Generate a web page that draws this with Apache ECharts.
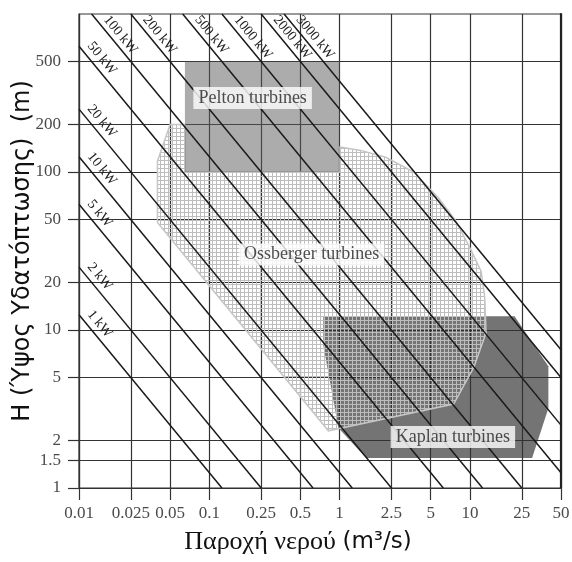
<!DOCTYPE html>
<html>
<head>
<meta charset="utf-8">
<script src="https://cdn.jsdelivr.net/npm/echarts@6/dist/echarts.min.js"></script>
<style>
html, body { margin: 0; padding: 0; background: #fff; }
#chart { width: 572px; height: 562px; }
</style>
</head>
<body>
<div id="chart"></div>
<script>
// tick values of the two log axes
const flowTicks = [0.01, 0.025, 0.05, 0.1, 0.25, 0.5, 1, 2.5, 5, 10, 25, 50];
const headTicks = [1, 1.5, 2, 5, 10, 20, 50, 100, 200, 500];

// constant power lines: label, start point and end point [Q, H] at the plot edges
const powerLabels = ['1 kW', '2 kW', '5 kW', '10 kW', '20 kW', '50 kW',
  '100 kW', '200 kW', '500 kW', '1000 kW', '2000 kW', '3000 kW'];
const powerStart = [[0.01, 12.5], [0.01, 25], [0.01, 62.5], [0.01, 125], [0.01, 250], [0.01, 625],
  [0.0125, 1000], [0.025, 1000], [0.0625, 1000], [0.125, 1000], [0.25, 1000], [0.375, 1000]];
const powerEnd = [[0.125, 1], [0.25, 1], [0.625, 1], [1.25, 1], [2.5, 1], [6.25, 1],
  [12.5, 1], [25, 1], [50, 1.25], [50, 2.5], [50, 5], [50, 7.5]];

// turbine application ranges, outline points [Q, H]
const peltonArea = [[0.065, 500], [1, 500], [1, 100], [0.065, 100]];
const ossbergerArea = [[0.05, 200], [0.065, 200], [0.065, 100], [1, 100], [1, 144], [1.45, 137],
  [2.26, 124], [3.7, 100], [5.7, 69], [7.8, 49], [10.2, 32], [12.2, 23.5], [13, 16], [13.3, 9.6],
  [10.7, 5.8], [7.5, 3.4], [0.82, 2.3], [0.04, 48], [0.04, 117]];
const kaplanArea = [[0.75, 12.2], [22, 12.2], [40, 5.9], [40, 3.2], [30, 1.55], [1.6, 1.55],
  [0.98, 2.4], [0.75, 8]];

const regionNames = ['Pelton turbines', 'Ossberger turbines', 'Kaplan turbines'];
const regionLabelAt = [[0.215, 294], [0.61, 30], [7.4, 2.1]];

const serif = 'Liberation Serif';
const gridColor = '#333';

// cross hatch tile for the Ossberger area
const tile = document.createElement('canvas');
tile.width = 4;
tile.height = 4;
const tctx = tile.getContext('2d');
tctx.fillStyle = '#bdbdbd';
tctx.fillRect(0, 0, 4, 1);
tctx.fillRect(0, 0, 1, 4);

const polygonSeries = (name, pts, style, z) => ({
  type: 'custom',
  name: name,
  z: z,
  silent: true,
  data: pts,
  renderItem: (params, api) => {
    if (params.dataIndex !== 0) return;
    return {
      type: 'polygon',
      shape: { points: pts.map(p => api.coord(p)) },
      style: style
    };
  }
});

const powerLines = powerLabels.map((label, i) => {
  const fromTop = powerStart[i][1] >= 1000;
  return [
    {
      coord: powerStart[i],
      name: label,
      label: { distance: fromTop ? [12, 2] : [5, 3] }
    },
    { coord: powerEnd[i] }
  ];
});

const chart = echarts.init(document.getElementById('chart'), null, { renderer: 'canvas' });

chart.setOption({
  animation: false,
  backgroundColor: '#fff',
  grid: {
    left: 79, right: 11, top: 14, bottom: 74,
    show: true, borderColor: gridColor, borderWidth: 1.2,
    outerBoundsMode: 'none'
  },
  xAxis: {
    type: 'log', logBase: 10, min: 0.01, max: 50,
    name: '{a|Παροχή νερού}  {b|(m³/s)}',
    nameLocation: 'middle', nameGap: 41, nameMoveOverlap: false,
    nameTextStyle: {
      padding: [0, 44, 0, 0],
      rich: {
        a: { fontFamily: serif, fontSize: 26, color: '#111' },
        b: { fontFamily: 'DejaVu Sans', fontSize: 23, color: '#111' }
      }
    },
    axisLine: { show: true, onZero: false, lineStyle: { color: gridColor, width: 1.2 } },
    axisTick: { show: true, length: 12, customValues: flowTicks, lineStyle: { color: gridColor, width: 1.2 } },
    axisLabel: {
      customValues: flowTicks, formatter: v => String(v), margin: 17,
      color: '#4a4a4a', fontFamily: serif, fontSize: 17
    },
    splitLine: { show: true, lineStyle: { color: gridColor, width: 1.2 } },
    minorSplitLine: { show: false }
  },
  yAxis: [{
    type: 'log', logBase: 10, min: 1, max: 1000,
    name: 'H (Ύψος Υδατόπτωσης)  (m)',
    nameLocation: 'middle', nameGap: 44, nameMoveOverlap: false,
    nameTextStyle: { fontFamily: 'DejaVu Sans', fontSize: 24, color: '#111' },
    axisLine: { show: true, lineStyle: { color: gridColor, width: 1.2 } },
    axisTick: { show: true, length: 11, customValues: headTicks, lineStyle: { color: gridColor, width: 1.2 } },
    axisLabel: {
      customValues: headTicks, formatter: v => String(v), margin: 18,
      color: '#4a4a4a', fontFamily: serif, fontSize: 17
    },
    splitLine: { show: true, lineStyle: { color: gridColor, width: 1.2 } }
  }, {
    // heavier right border
    type: 'log', logBase: 10, min: 1, max: 1000, position: 'right',
    axisLine: { show: true, lineStyle: { color: '#222', width: 2.2 } },
    axisTick: { show: false }, axisLabel: { show: false }, splitLine: { show: false }
  }],
  series: [
    {
      type: 'line',
      z: 1,
      data: [],
      silent: true,
      markLine: {
        silent: true,
        symbol: ['none', 'none'],
        lineStyle: { color: '#1a1a1a', width: 1.5, type: 'solid' },
        label: {
          show: true, position: 'insideStartTop', formatter: '{b}',
          fontFamily: serif, fontSize: 14, color: '#222'
        },
        data: powerLines
      }
    },
    polygonSeries('Kaplan', kaplanArea, { fill: 'rgba(50,50,50,0.68)' }, 2),
    polygonSeries('Ossberger', ossbergerArea,
      { fill: { image: tile, repeat: 'repeat' }, stroke: '#c6c6c6', lineWidth: 1.5 }, 3),
    polygonSeries('Pelton', peltonArea, { fill: 'rgba(90,90,90,0.5)' }, 4),
    {
      type: 'scatter',
      z: 6,
      silent: true,
      symbolSize: 1,
      itemStyle: { color: 'transparent' },
      data: regionLabelAt.map((p, i) => ({ value: p, name: regionNames[i] })),
      label: {
        show: true, position: 'inside', formatter: '{b}',
        fontFamily: serif, fontSize: 18, color: '#222',
        backgroundColor: '#fff', padding: [3, 5, 1, 5]
      }
    }
  ]
});
</script>
</body>
</html>
